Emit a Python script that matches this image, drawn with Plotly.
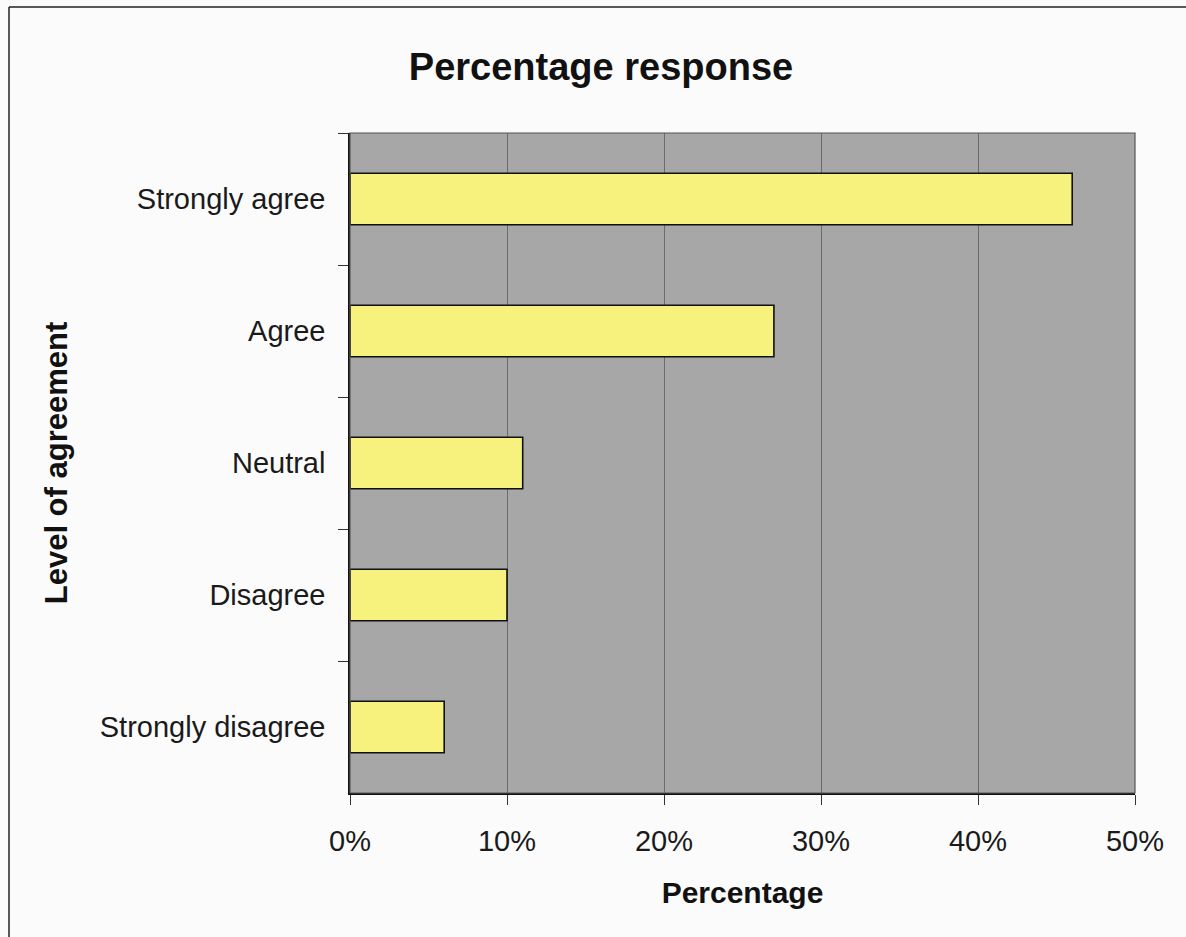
import plotly.graph_objects as go

categories = ["Strongly agree", "Agree", "Neutral", "Disagree", "Strongly disagree"]
percentages = [46, 27, 11, 10, 6]
x_ticks = [0, 10, 20, 30, 40, 50]
x_tick_labels = ["0%", "10%", "20%", "30%", "40%", "50%"]

W, H = 1186, 937
L, R, T, B = 350, 1135, 133, 793

fig = go.Figure(go.Bar(
    x=percentages,
    y=categories,
    orientation="h",
    width=0.39,
    marker=dict(color="#f7f27e", line=dict(color="#111111", width=1.6)),
))

font = "Liberation Sans, Arial, sans-serif"

fig.update_layout(
    width=W, height=H,
    margin=dict(l=L, r=W - R, t=T, b=H - B, autoexpand=False),
    paper_bgcolor="#fbfbfb",
    plot_bgcolor="#a7a7a7",
    showlegend=False,
    font=dict(family=font, color="#1a1a1a"),
    title=dict(text="<b>Percentage response</b>", x=601 / W, xanchor="center",
               y=1 - 67 / H, yanchor="middle", yref="container",
               font=dict(size=38, family=font, color="#111111")),
    xaxis=dict(
        range=[0, 50], tickvals=x_ticks, ticktext=x_tick_labels,
        showgrid=True, gridcolor="#6c6c6c", gridwidth=1,
        zeroline=False,
        showline=True, linecolor="#111111", linewidth=1.5,
        ticks="outside", ticklen=10, tickcolor="#333333",
        tickfont=dict(size=29, family=font, color="#1a1a1a"),
        ticklabelstandoff=11,
        title=dict(text="<b>Percentage</b>", font=dict(size=30, family=font, color="#111111"), standoff=26),
    ),
    yaxis=dict(
        categoryorder="array", categoryarray=categories, autorange="reversed",
        showgrid=False, zeroline=False,
        showline=True, linecolor="#111111", linewidth=1.5,
        ticks="outside", ticklen=10, tickcolor="#333333", tickson="boundaries",
        tickfont=dict(size=29, family=font, color="#1a1a1a"),
        ticklabelstandoff=17,
        title=dict(text="<b>Level of agreement</b>", font=dict(size=31, family=font, color="#111111"), standoff=23),
    ),
)

# plot-area border (top/right)
fig.add_shape(type="rect", xref="paper", yref="paper", x0=0, x1=1, y0=0, y1=1,
              line=dict(color="#555555", width=1.2), layer="above")
# outer chart frame: left and top edges visible in the scan
px = lambda v: (v - L) / (R - L)
py = lambda v: (B - v) / (B - T)
fig.add_shape(type="line", xref="paper", yref="paper",
              x0=px(9), x1=px(9), y0=py(937), y1=py(7),
              line=dict(color="#222222", width=1.5))
fig.add_shape(type="line", xref="paper", yref="paper",
              x0=px(9), x1=px(1186), y0=py(7), y1=py(7),
              line=dict(color="#222222", width=1.5))

fig.write_html("out.html")
